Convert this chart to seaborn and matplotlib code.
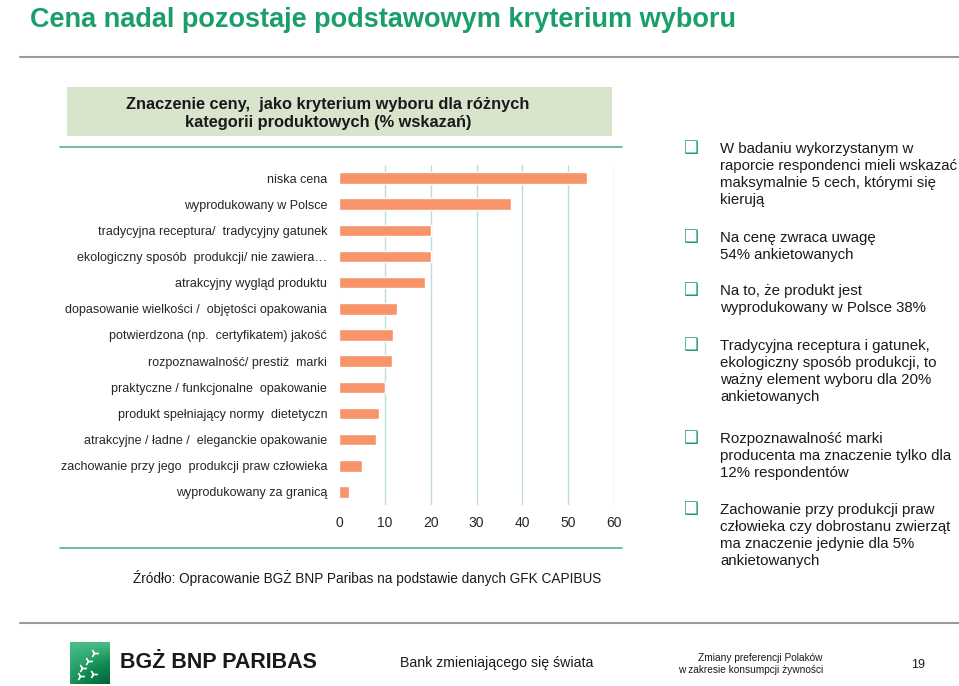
import matplotlib.pyplot as plt
import matplotlib.patches as mpatches
import matplotlib.lines as mlines
import numpy as np
import pandas as pd
import seaborn as sns

categories = [
    "niska cena",
    "wyprodukowany w Polsce",
    "tradycyjna receptura/  tradycyjny gatunek",
    "ekologiczny sposób  produkcji/ nie zawiera…",
    "atrakcyjny wygląd produktu",
    "dopasowanie wielkości /  objętości opakowania",
    "potwierdzona (np.  certyfikatem) jakość",
    "rozpoznawalność/ prestiż  marki",
    "praktyczne / funkcjonalne  opakowanie",
    "produkt spełniający normy  dietetyczn",
    "atrakcyjne / ładne /  eleganckie opakowanie",
    "zachowanie przy jego  produkcji praw człowieka",
    "wyprodukowany za granicą",
]
values = [54.2, 37.5, 20.0, 20.0, 18.7, 12.6, 11.7, 11.6, 10.0, 8.7, 8.1, 5.0, 2.1]
x_ticks = [0, 10, 20, 30, 40, 50, 60]

bullets = [
    "W badaniu wykorzystanym w\nraporcie respondenci mieli wskazać\nmaksymalnie 5 cech, którymi się\nkierują",
    "Na cenę zwraca uwagę\n54% ankietowanych",
    "Na to, że produkt jest\nwyprodukowany w Polsce 38%",
    "Tradycyjna receptura i gatunek,\nekologiczny sposób produkcji, to\nważny element wyboru dla 20%\nankietowanych",
    "Rozpoznawalność marki\nproducenta ma znaczenie tylko dla\n12% respondentów",
    "Zachowanie przy produkcji praw\nczłowieka czy dobrostanu zwierząt\nma znaczenie jedynie dla 5%\nankietowanych",
]
bullet_y = [148, 237, 290, 345, 438, 509]

sns.set_theme(style="white")
plt.rcParams["font.family"] = ["Liberation Sans", "DejaVu Sans"]

W, H = 959, 686
fig = plt.figure(figsize=(W / 100, H / 100), dpi=100)


def fx(px):
    return px / W


def fy(py):
    return 1 - py / H


GREEN = "#1a9e6a"
TXT = "#1a1a1a"

# title + rules
fig.text(fx(30), fy(20), "Cena nadal pozostaje podstawowym kryterium wyboru",
         color=GREEN, fontsize=19.5, fontweight="bold", va="center")
fig.add_artist(mlines.Line2D([fx(20), 1], [fy(57), fy(57)], color="#9a9a9a", lw=1.5))
fig.add_artist(mlines.Line2D([fx(20), 1], [fy(623), fy(623)], color="#9a9a9a", lw=1.5))

# chart header band
fig.add_artist(mpatches.Rectangle((fx(67), fy(136)), fx(612) - fx(67), fy(87) - fy(136),
                                  color="#d9e4cd", lw=0))
fig.text(fx(328), fy(113.5), "Znaczenie ceny,  jako kryterium wyboru dla różnych\nkategorii produktowych (% wskazań)",
         ha="center", va="center", fontsize=11.8, fontweight="bold", color=TXT, linespacing=1.33)
for yy in (147, 548):
    fig.add_artist(mlines.Line2D([fx(60), fx(622)], [fy(yy), fy(yy)], color="#5aaea0", lw=1.2))

# bar chart
ax = fig.add_axes([fx(339), fy(505), fx(614) - fx(339), fy(165) - fy(505)])
df = pd.DataFrame({"cat": categories, "val": values})
sns.barplot(data=df, y="cat", x="val", orient="h", color="#f79469", saturation=1,
            width=0.44, ax=ax)
ax.set_xlim(0, 60)
ax.set_xticks(x_ticks)
ax.set_xlabel("")
ax.set_ylabel("")
ax.grid(axis="x", color="#c0dcd7", lw=1)
ax.xaxis.get_gridlines()[0].set_visible(False)
ax.set_axisbelow(True)
for s in ax.spines.values():
    s.set_visible(False)
ax.tick_params(axis="y", length=0, pad=8.5, labelsize=9, labelcolor="#262626")
ax.tick_params(axis="x", length=0, pad=8, labelsize=10, labelcolor="#262626")

fig.text(fx(367), fy(578), "Źródło: Opracowanie BGŻ BNP Paribas na podstawie danych GFK CAPIBUS",
         ha="center", va="center", fontsize=9.8, color=TXT)

# right-hand bullets
for yb, txt in zip(bullet_y, bullets):
    fig.text(fx(690), fy(yb), "❑", family=["DejaVu Sans"], fontsize=12, color=GREEN,
             ha="center", va="center")
    fig.text(fx(720), fy(yb - 6), txt, fontsize=10.8, color=TXT,
             ha="left", va="top", linespacing=1.27)

# footer logo (green gradient tile)
lax = fig.add_axes([fx(70), fy(684), fx(110) - fx(70), fy(642) - fy(684)])
grad = np.linspace(0, 1, 50).reshape(-1, 1) * np.linspace(0.4, 1, 50).reshape(1, -1)
lax.imshow(grad, cmap=sns.blend_palette(["#4cc08a", "#0f8a50", "#06603a"], as_cmap=True),
           aspect="auto")
lax.scatter([14, 30, 22, 12, 28], [30, 12, 22, 40, 38], marker="4", s=40, color="white", lw=1.2)
lax.set_axis_off()

fig.text(fx(120), fy(663), "BGŻ BNP PARIBAS", fontsize=15.5, fontweight="bold",
         color=TXT, va="center")
fig.text(fx(400), fy(663), "Bank zmieniającego się świata", fontsize=10.2,
         color=TXT, va="center")
fig.text(fx(823), fy(664), "Zmiany preferencji Polaków\nw zakresie konsumpcji żywności",
         fontsize=7.3, color=TXT, ha="right", va="center", multialignment="right")
fig.text(fx(918), fy(665), "19", fontsize=9, color=TXT, ha="center", va="center")

fig.savefig("out.png", dpi=100)
